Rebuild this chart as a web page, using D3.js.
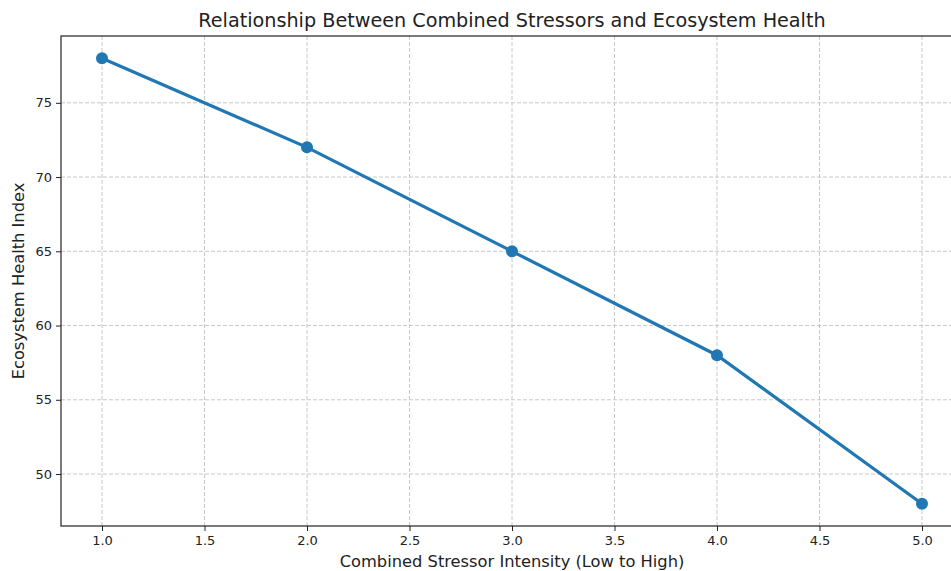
<!DOCTYPE html>
<html><head><meta charset="utf-8">
<script src="https://cdn.jsdelivr.net/npm/d3@7"></script>
<style>body{margin:0;background:#fff;} svg{display:block;font-family:"DejaVu Sans",sans-serif;}</style>
</head><body>
<svg id="chart" width="951" height="571"></svg>
<script>
const stressorLevels = [1, 2, 3, 4, 5];
const healthIndex = [78, 72, 65, 58, 48];
const xTicks = [1.0, 1.5, 2.0, 2.5, 3.0, 3.5, 4.0, 4.5, 5.0];
const yTicks = [50, 55, 60, 65, 70, 75];

const svg = d3.select("#chart");
const L = 61, T = 36, B = 526, R = 963;
const x = d3.scaleLinear().domain([0.8, 5.2]).range([L, R]);
const y = d3.scaleLinear().domain([46.5, 79.5]).range([B, T]);

svg.append("defs").append("clipPath").attr("id", "clip")
  .append("rect").attr("x", L).attr("y", T).attr("width", R - L).attr("height", B - T);

const grid = svg.append("g").attr("clip-path", "url(#clip)");
grid.selectAll("line.gx").data(xTicks).join("line")
  .attr("x1", d => x(d)).attr("x2", d => x(d)).attr("y1", T).attr("y2", B)
  .attr("stroke", "#c8c8c8").attr("stroke-width", 1).attr("stroke-dasharray", "4,2");
grid.selectAll("line.gy").data(yTicks).join("line")
  .attr("x1", L).attr("x2", R).attr("y1", d => y(d)).attr("y2", d => y(d))
  .attr("stroke", "#c8c8c8").attr("stroke-width", 1).attr("stroke-dasharray", "4,2");

const xAxis = svg.append("g").attr("transform", `translate(0,${B})`)
  .call(d3.axisBottom(x).tickValues(xTicks).tickFormat(d3.format(".1f")).tickSizeInner(5).tickSizeOuter(0).tickPadding(4.5));
const yAxis = svg.append("g").attr("transform", `translate(${L},0)`)
  .call(d3.axisLeft(y).tickValues(yTicks).tickFormat(d3.format("d")).tickSizeInner(5).tickSizeOuter(0).tickPadding(4));
[xAxis, yAxis].forEach(a => {
  a.select(".domain").remove();
  a.selectAll("text").attr("font-size", 13).attr("fill", "#222").attr("font-family", "DejaVu Sans");
  a.selectAll("line").attr("stroke", "#222");
});

// frame
svg.append("rect").attr("x", L).attr("y", T).attr("width", R - L).attr("height", B - T)
  .attr("fill", "none").attr("stroke", "#222").attr("stroke-width", 1.2);

const data = stressorLevels.map((s, i) => ({ s, v: healthIndex[i] }));
const plot = svg.append("g").attr("clip-path", "url(#clip)");
plot.append("path").datum(data)
  .attr("d", d3.line().x(d => x(d.s)).y(d => y(d.v)))
  .attr("fill", "none").attr("stroke", "#1f77b4").attr("stroke-width", 3.2);
plot.selectAll("circle").data(data).join("circle")
  .attr("cx", d => x(d.s)).attr("cy", d => y(d.v)).attr("r", 6).attr("fill", "#1f77b4");

svg.append("text").attr("x", 512).attr("y", 27).attr("text-anchor", "middle")
  .attr("font-size", 19.2).attr("fill", "#222").text("Relationship Between Combined Stressors and Ecosystem Health");
svg.append("text").attr("x", 512).attr("y", 567).attr("text-anchor", "middle")
  .attr("font-size", 16.3).attr("fill", "#222").text("Combined Stressor Intensity (Low to High)");
svg.append("text").attr("transform", `translate(23.5,${(T + B) / 2}) rotate(-90)`).attr("text-anchor", "middle")
  .attr("font-size", 16.3).attr("fill", "#222").text("Ecosystem Health Index");
</script>
</body></html>
